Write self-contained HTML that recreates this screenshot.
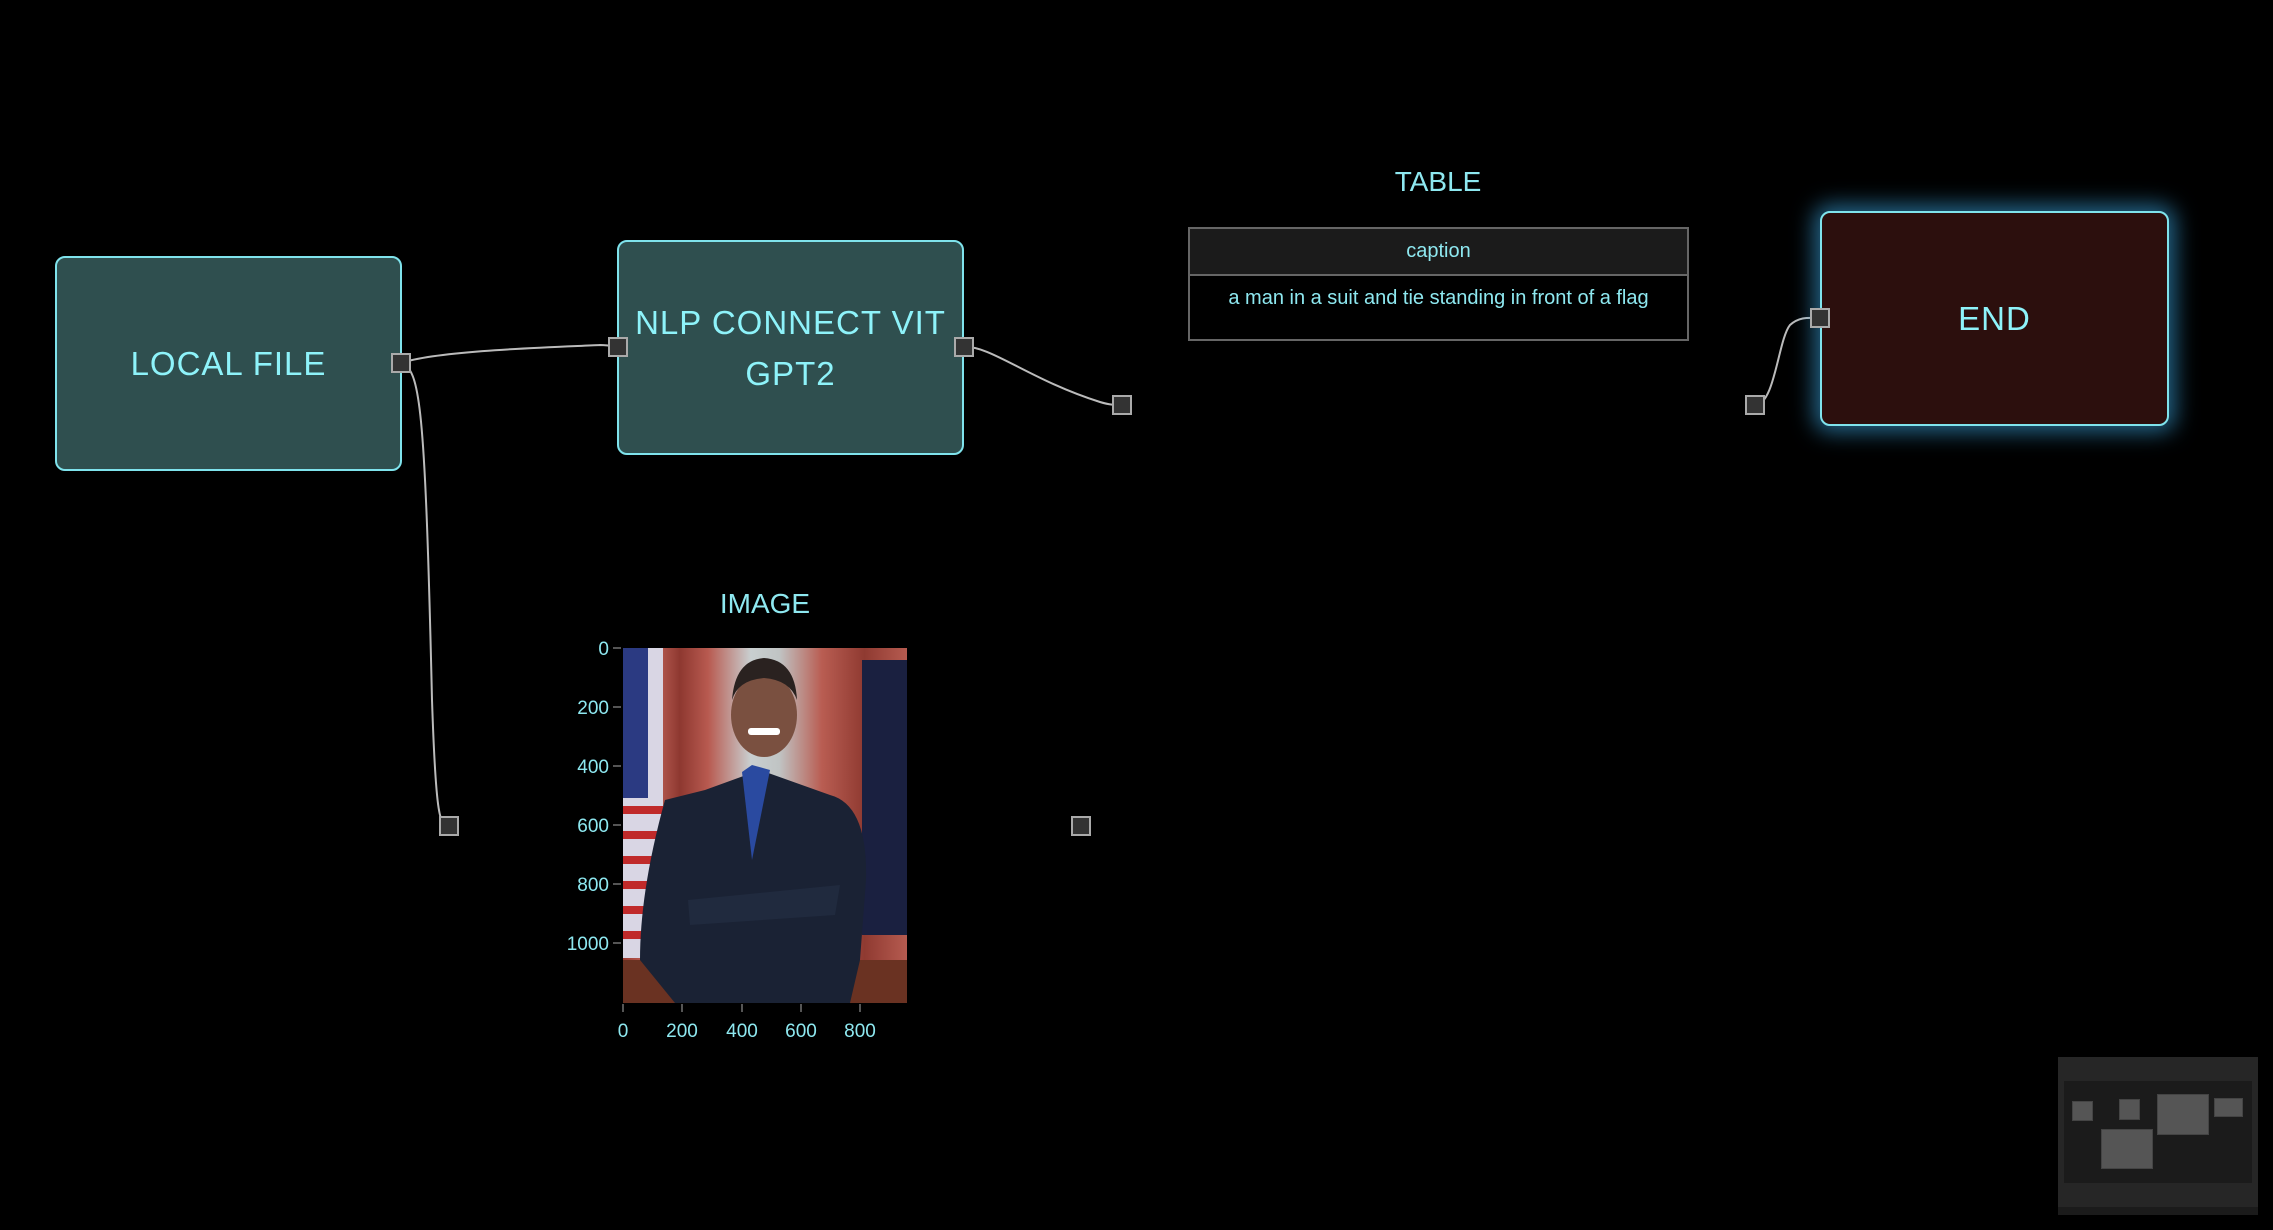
<!DOCTYPE html>
<html><head><meta charset="utf-8"><style>
html,body{margin:0;padding:0;background:#000;width:2273px;height:1230px;overflow:hidden;font-family:"Liberation Sans","DejaVu Sans",sans-serif}
.node{position:absolute;box-sizing:border-box;border:2px solid #7fe3ec;border-radius:10px;background:#2f4f4f;color:#8ef3fa;font-size:33px;letter-spacing:1px;display:flex;align-items:center;justify-content:center;text-align:center;line-height:51px}
.port{position:absolute;width:20px;height:20px;box-sizing:border-box;background:#333;border:2px solid #aaa}
.t{position:absolute;color:#8ee8f0}
</style></head><body>
<svg width="2273" height="1230" style="position:absolute;left:0;top:0">
<g fill="none" stroke="#bbb" stroke-width="2">
<path d="M401 363 C 440 350, 560 347, 600 345 C 610 345, 615 347, 618 347"/>
<path d="M401 363 C 420 370, 425 400, 432 700 C 436 820, 440 826, 449 826"/>
<path d="M964 347 C 990 345, 1030 380, 1100 402 C 1110 405, 1115 405, 1122 405"/>
<path d="M1755 405 C 1775 405, 1778 340, 1790 325 C 1800 316, 1810 318, 1820 318"/>
</g>
</svg>
<div class="node" style="left:55px;top:256px;width:347px;height:215px">LOCAL FILE</div>
<div class="node" style="left:617px;top:240px;width:347px;height:215px">NLP CONNECT VIT<br>GPT2</div>
<div class="node" style="left:1820px;top:211px;width:349px;height:215px;background:#2c0f0d;box-shadow:0 0 22px 6px rgba(60,170,230,0.6)">END</div>
<div class="port" style="left:391px;top:353px"></div>
<div class="port" style="left:608px;top:337px"></div>
<div class="port" style="left:954px;top:337px"></div>
<div class="port" style="left:1112px;top:395px"></div>
<div class="port" style="left:1810px;top:308px"></div>
<div class="port" style="left:1745px;top:395px"></div>
<div class="port" style="left:439px;top:816px"></div>
<div class="port" style="left:1071px;top:816px"></div>

<div class="t" style="left:1338px;top:166px;width:200px;text-align:center;font-size:28px">TABLE</div>
<div style="position:absolute;left:1188px;top:227px;width:501px;height:114px;box-sizing:border-box;border:2px solid #666">
<div style="height:45px;background:#1b1b1b;border-bottom:2px solid #666;color:#8ee8f0;font-size:20px;text-align:center;line-height:44px">caption</div>
<div style="color:#8ee8f0;font-size:20px;text-align:center;line-height:20px;padding-top:12px">a man in a suit and tie standing in front of a flag</div>
</div>

<div class="t" style="left:665px;top:588px;width:200px;text-align:center;font-size:28px">IMAGE</div>
<svg width="2273" height="1230" style="position:absolute;left:0;top:0">
<defs>
<linearGradient id="cur" x1="0" x2="1"><stop offset="0" stop-color="#9c3c34"/><stop offset="0.1" stop-color="#c2665c"/><stop offset="0.2" stop-color="#8e3830"/><stop offset="0.3" stop-color="#b85a50"/><stop offset="0.45" stop-color="#c9cfd0"/><stop offset="0.55" stop-color="#c0c4c4"/><stop offset="0.7" stop-color="#b95d52"/><stop offset="0.85" stop-color="#8f3a31"/><stop offset="1" stop-color="#b65b50"/></linearGradient>
</defs>
<rect x="623" y="648" width="284" height="355" fill="url(#cur)"/>
<rect x="623" y="648" width="40" height="310" fill="#d9d6e4"/>
<rect x="623" y="648" width="25" height="150" fill="#2b3a82"/>
<g stroke="#c02a2a" stroke-width="8"><line x1="623" y1="810" x2="663" y2="810"/><line x1="623" y1="835" x2="663" y2="835"/><line x1="623" y1="860" x2="663" y2="860"/><line x1="623" y1="885" x2="663" y2="885"/><line x1="623" y1="910" x2="663" y2="910"/><line x1="623" y1="935" x2="663" y2="935"/></g>
<rect x="862" y="660" width="45" height="275" fill="#1a2040"/>
<rect x="623" y="960" width="284" height="43" fill="#6a3222"/>
<path d="M675 1003 L640 960 Q640 890 665 800 L705 790 L760 770 L830 795 Q868 805 866 880 L860 960 L850 1003 Z" fill="#1a2234"/>
<path d="M742 772 L752 765 L770 770 L752 860 Z" fill="#2a4aa0"/>
<ellipse cx="764" cy="715" rx="33" ry="42" fill="#7a5040"/>
<path d="M732 700 Q735 660 764 658 Q795 660 797 700 Q790 680 764 678 Q738 680 732 700Z" fill="#2a2220"/>
<rect x="748" y="728" width="32" height="7" rx="3" fill="#fff"/>
<path d="M688 900 L840 885 L835 915 L690 925 Z" fill="#202a3e"/>
</svg>
<svg width="2273" height="1230" style="position:absolute;left:0;top:0">
<g stroke="#555" stroke-width="2">
<line x1="613" y1="648" x2="621" y2="648"/><line x1="613" y1="707" x2="621" y2="707"/><line x1="613" y1="766" x2="621" y2="766"/><line x1="613" y1="825" x2="621" y2="825"/><line x1="613" y1="884" x2="621" y2="884"/><line x1="613" y1="943" x2="621" y2="943"/>
<line x1="623" y1="1004" x2="623" y2="1012"/><line x1="682" y1="1004" x2="682" y2="1012"/><line x1="742" y1="1004" x2="742" y2="1012"/><line x1="801" y1="1004" x2="801" y2="1012"/><line x1="860" y1="1004" x2="860" y2="1012"/>
</g>
<g fill="#8ee8f0" font-family="Liberation Sans, sans-serif" font-size="19">
<g text-anchor="end"><text x="609" y="655">0</text><text x="609" y="714">200</text><text x="609" y="773">400</text><text x="609" y="832">600</text><text x="609" y="891">800</text><text x="609" y="950">1000</text></g>
<g text-anchor="middle"><text x="623" y="1037">0</text><text x="682" y="1037">200</text><text x="742" y="1037">400</text><text x="801" y="1037">600</text><text x="860" y="1037">800</text></g>
</g>
</svg>

<div style="position:absolute;left:2058px;top:1057px;width:200px;height:158px;background:#262626"></div>
<div style="position:absolute;left:2058px;top:1207px;width:200px;height:8px;background:#1b1b1b"></div>
<div style="position:absolute;left:2064px;top:1081px;width:188px;height:102px;background:#1b1b1b"></div>
<div style="position:absolute;left:2072px;top:1101px;width:21px;height:20px;background:#555;border:1px solid #444;box-sizing:border-box"></div>
<div style="position:absolute;left:2119px;top:1099px;width:21px;height:21px;background:#555;border:1px solid #444;box-sizing:border-box"></div>
<div style="position:absolute;left:2157px;top:1094px;width:52px;height:41px;background:#555;border:1px solid #444;box-sizing:border-box"></div>
<div style="position:absolute;left:2214px;top:1098px;width:29px;height:19px;background:#555;border:1px solid #444;box-sizing:border-box"></div>
<div style="position:absolute;left:2101px;top:1129px;width:52px;height:40px;background:#555;border:1px solid #444;box-sizing:border-box"></div>
</body></html>
